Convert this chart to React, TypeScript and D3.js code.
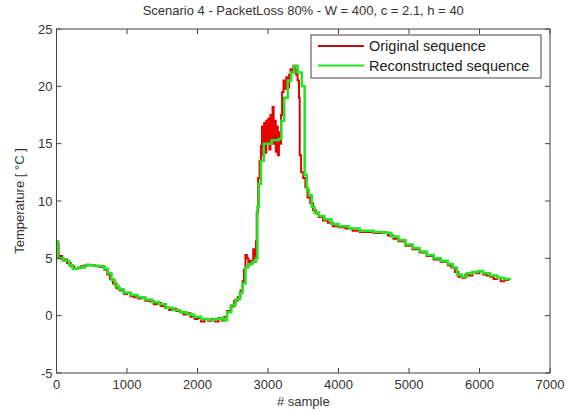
import React from "react";
import * as d3 from "d3";

const title = "Scenario 4 - PacketLoss 80% - W = 400, c = 2.1, h = 40";
const xLabel = "# sample";
const yLabel = "Temperature [ °C ]";
const xTicks = [0, 1000, 2000, 3000, 4000, 5000, 6000, 7000];
const yTicks = [-5, 0, 5, 10, 15, 20, 25];
const seriesNames = ["Original sequence", "Reconstructed sequence"];

// Original sequence [sample, °C]
const originalX = [0,30,80,150,200,250,300,350,420,480,550,620,680,720,760,800,850,900,960,1000,1050,1100,1160,1200,1260,1320,1380,1420,1480,1540,1600,1640,1700,1760,1800,1850,1900,1960,2000,2050,2100,2150,2200,2250,2300,2350,2380,2420,2470,2520,2570,2610,2640,2660,2680,2700,2720,2740,2760,2790,2810,2830,2840,2860,2880,2900,2915,2930,2945,2960,2975,2990,3005,3020,3035,3050,3065,3080,3095,3110,3125,3140,3155,3170,3185,3200,3220,3240,3260,3280,3300,3320,3340,3360,3380,3400,3420,3440,3450,3470,3500,3530,3560,3600,3640,3680,3720,3780,3850,3920,4000,4100,4200,4300,4400,4500,4600,4700,4780,4850,4950,5050,5150,5250,5350,5450,5550,5600,5650,5700,5750,5800,5850,5900,5950,6000,6050,6100,6150,6200,6250,6300,6350,6420];
const originalY = [6.3,5.2,4.9,4.6,4.3,4.1,4.15,4.3,4.45,4.4,4.3,4.25,4.0,3.6,3.2,2.8,2.4,2.2,1.9,2.0,1.7,1.6,1.5,1.6,1.3,1.25,1.0,1.1,0.85,0.7,0.5,0.6,0.4,0.3,0.1,0.2,-0.1,-0.3,-0.2,-0.5,-0.3,-0.45,-0.3,-0.5,-0.2,-0.45,-0.1,0.4,0.8,1.3,1.6,2.2,3.0,4.0,5.3,5.0,4.4,4.8,4.6,5.8,5.0,6.5,9.0,12.0,13.5,14.8,16.5,14.0,16.8,14.2,17.0,15.0,17.2,14.5,17.5,15.2,18.2,15.0,17.0,14.3,16.5,14.0,16.0,15.0,17.5,19.5,20.5,19.8,20.8,19.9,21.0,21.5,21.2,21.8,21.5,21.0,20.5,19.0,14.0,12.5,12.0,11.2,10.3,9.8,9.2,8.9,8.6,8.3,8.1,7.8,7.7,7.6,7.4,7.3,7.3,7.2,7.25,7.0,6.7,6.5,6.1,5.8,5.5,5.2,4.9,4.7,4.4,4.2,3.8,3.4,3.3,3.6,3.5,3.8,3.7,3.9,3.6,3.5,3.4,3.2,3.3,3.0,3.1,3.1];

// Reconstructed sequence [sample, °C] (step-like)
const reconX = [0,20,100,180,230,300,400,500,600,680,730,780,830,880,950,1050,1150,1250,1350,1450,1550,1650,1750,1850,1950,2050,2150,2250,2330,2370,2420,2480,2540,2600,2640,2680,2720,2780,2830,2850,2870,2900,2940,3050,3150,3190,3230,3280,3330,3370,3420,3480,3520,3550,3580,3620,3660,3720,3800,3900,4000,4150,4300,4500,4650,4750,4850,4950,5050,5150,5250,5350,5450,5550,5620,5680,5750,5820,5900,5980,6050,6150,6250,6350,6430];
const reconY = [6.5,5.0,4.8,4.4,4.1,4.2,4.4,4.35,4.3,4.1,3.7,3.1,2.6,2.3,2.0,1.8,1.6,1.4,1.2,1.0,0.7,0.5,0.3,0.1,-0.1,-0.3,-0.35,-0.3,-0.2,-0.4,0.3,0.9,1.4,2.0,2.8,4.2,4.5,4.7,5.0,9.5,11.5,13.5,15.0,15.3,15.4,17.0,19.0,20.5,21.2,21.8,21.2,20.0,12.3,11.0,10.5,9.5,9.0,8.7,8.4,8.0,7.8,7.6,7.4,7.3,7.2,6.9,6.6,6.2,5.9,5.6,5.3,5.0,4.8,4.5,4.2,3.6,3.4,3.7,3.8,3.9,3.7,3.5,3.3,3.2,3.1];

const W = 567, H = 412;
const M = { left: 56.5, right: 550, top: 29, bottom: 373 };
const FONT = "'Liberation Sans', Arial, Helvetica, sans-serif";
const RED = "#e80000";
const GREEN = "#22e622";
const INK = "#333";

export default function App() {
  const x = d3.scaleLinear().domain([0, 7000]).range([M.left, M.right]);
  const y = d3.scaleLinear().domain([-5, 25]).range([M.bottom, M.top]);

  const orig = originalX.map((v, i) => [v, originalY[i]] as [number, number]);
  const rec = reconX.map((v, i) => [v, reconY[i]] as [number, number]);

  const origLine = d3.line<[number, number]>().x(d => x(d[0])).y(d => y(d[1])).curve(d3.curveStepAfter);
  const recLine = d3.line<[number, number]>().x(d => x(d[0])).y(d => y(d[1])).curve(d3.curveStepAfter);

  const tl = 5;
  const lg = { x0: 311, y0: 35, x1: 541, y1: 78 };

  return (
    <svg width={W} height={H} style={{ position: "absolute", left: 0, top: 0, background: "#fff" }}>
      <rect x={0} y={0} width={W} height={H} fill="#fff" />
      <text x={(M.left + M.right) / 2} y={15} textAnchor="middle" fontFamily={FONT} fontSize={13} fill={INK}>{title}</text>

      <g>
        <path d={origLine(orig) || ""} fill="none" stroke={RED} strokeWidth={2} />
        <path d={recLine(rec) || ""} fill="none" stroke={GREEN} strokeWidth={2.5} />
      </g>

      <rect x={M.left} y={M.top} width={M.right - M.left} height={M.bottom - M.top} fill="none" stroke="#444" strokeWidth={1} />
      {xTicks.map(t => (
        <g key={"x" + t}>
          <line x1={x(t)} x2={x(t)} y1={M.bottom} y2={M.bottom - tl} stroke="#444" />
          <line x1={x(t)} x2={x(t)} y1={M.top} y2={M.top + tl} stroke="#444" />
          <text x={x(t)} y={M.bottom + 16} textAnchor="middle" fontFamily={FONT} fontSize={13} fill={INK}>{t}</text>
        </g>
      ))}
      {yTicks.map(t => (
        <g key={"y" + t}>
          <line x1={M.left} x2={M.left + tl} y1={y(t)} y2={y(t)} stroke="#444" />
          <line x1={M.right} x2={M.right - tl} y1={y(t)} y2={y(t)} stroke="#444" />
          <text x={M.left - 4} y={y(t) + 4.5} textAnchor="end" fontFamily={FONT} fontSize={13} fill={INK}>{t}</text>
        </g>
      ))}
      <text x={(M.left + M.right) / 2} y={406} textAnchor="middle" fontFamily={FONT} fontSize={13} fill={INK}>{xLabel}</text>
      <text transform={`translate(24,${(M.top + M.bottom) / 2}) rotate(-90)`} textAnchor="middle" fontFamily={FONT} fontSize={13} fill={INK}>{yLabel}</text>

      <rect x={lg.x0} y={lg.y0} width={lg.x1 - lg.x0} height={lg.y1 - lg.y0} fill="#fff" stroke="#444" />
      {seriesNames.map((n, i) => (
        <g key={n}>
          <line x1={318} x2={364} y1={46 + i * 19.5} y2={46 + i * 19.5} stroke={i === 0 ? "#c01010" : GREEN} strokeWidth={2} />
          <text x={369} y={46 + i * 19.5 + 5} fontFamily={FONT} fontSize={14.5} fill="#222">{n}</text>
        </g>
      ))}
    </svg>
  );
}
